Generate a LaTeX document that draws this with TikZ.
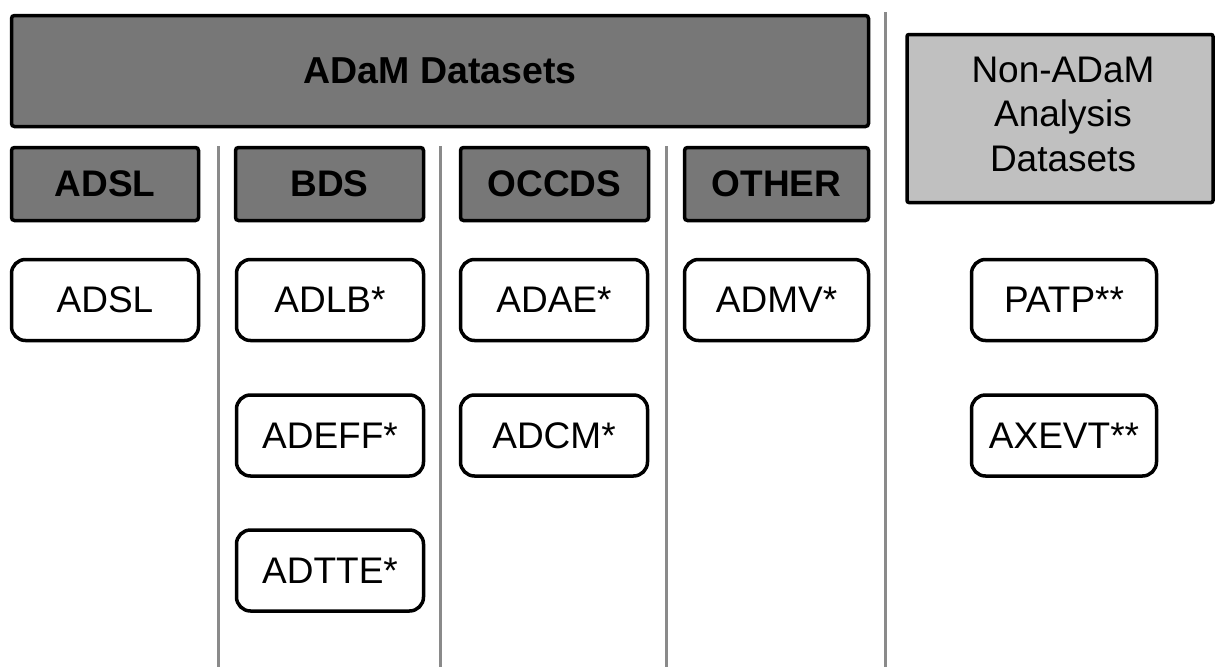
\documentclass[tikz,border=0pt]{standalone}
\usepackage{fontspec}
\setmainfont{Liberation Sans}
\definecolor{darkfill}{HTML}{777777}
\definecolor{lightfill}{HTML}{C0C0C0}
\definecolor{sepgray}{HTML}{8A8A8A}
\begin{document}
\begin{tikzpicture}[x=1pt,y=-1pt,
  banner/.style={draw=black, line width=3.5pt, fill=darkfill, rounded corners=3pt,
    font=\bfseries\fontsize{37.5}{42}\selectfont, inner sep=0pt},
  header/.style={draw=black, line width=3.5pt, fill=darkfill, rounded corners=3pt,
    minimum height=73pt, font=\bfseries\fontsize{37}{42}\selectfont, inner sep=0pt},
  dsbox/.style={draw=black, line width=3.5pt, fill=white, rounded corners=14pt,
    minimum height=81pt, font=\fontsize{37}{42}\selectfont, inner sep=0pt},
  nonadam/.style={draw=black, line width=3.5pt, fill=lightfill, rounded corners=2pt,
    minimum width=306pt, minimum height=168pt, inner sep=0pt},
  boxtext/.style={align=center, font=\fontsize{37}{44.5}\selectfont, inner sep=0pt},
  sep/.style={draw=sepgray, line width=3pt}]
\useasboundingbox (0,0) rectangle (1216,667);

% separators
\coordinate (s1t) at (218,146); \coordinate (s1b) at (218,667);
\coordinate (s2t) at (440,146); \coordinate (s2b) at (440,667);
\coordinate (s3t) at (666,146); \coordinate (s3b) at (666,667);
\coordinate (s4t) at (885,12);  \coordinate (s4b) at (885,667);
\draw[sep] (s1t) -- (s1b);
\draw[sep] (s2t) -- (s2b);
\draw[sep] (s3t) -- (s3b);
\draw[sep] (s4t) -- (s4b);

% banner
\node[banner, minimum width=857pt, minimum height=111pt] (adam) at (440,71) {ADaM Datasets};

% headers
\node[header, minimum width=187pt] (hadsl) at (105,184) {ADSL};
\node[header, minimum width=188pt] (hbds) at (329.5,184) {BDS};
\node[header, minimum width=188pt] (hoccds) at (554.5,184) {OCCDS};
\node[header, minimum width=184pt] (hother) at (776.5,184) {OTHER};

% dataset boxes
\node[dsbox, minimum width=187pt] (adsl) at (105,300) {ADSL};
\node[dsbox, minimum width=187pt] (adlb) at (330,300) {ADLB*};
\node[dsbox, minimum width=187pt] (adeff) at (330,435.5) {ADEFF*};
\node[dsbox, minimum width=187pt] (adtte) at (330,570.5) {ADTTE*};
\node[dsbox, minimum width=187pt] (adae) at (554,300) {ADAE*};
\node[dsbox, minimum width=187pt] (adcm) at (554,435.5) {ADCM*};
\node[dsbox, minimum width=184pt] (admv) at (776.5,300) {ADMV*};
\node[dsbox, minimum width=185pt] (patp) at (1064,300) {PATP**};
\node[dsbox, minimum width=185pt] (axevt) at (1064,435.5) {AXEVT**};

% non-ADaM
\node[nonadam] (nonadam) at (1060,118.5) {};
\node[boxtext] (nonadamtext) at (1063,114) {Non-ADaM\\Analysis\\Datasets};
\end{tikzpicture}
\end{document}
